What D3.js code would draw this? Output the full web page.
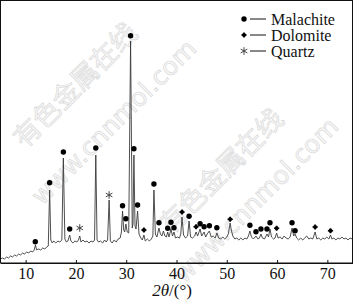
<!DOCTYPE html>
<html>
<head>
<meta charset="utf-8">
<title>XRD pattern</title>
<style>
	body { margin: 0; background: #fff; }
	svg { display: block; }
	.tick text { font-family: "Liberation Serif", "Times New Roman", serif; font-size: 16px; fill: #111; }
	.legend text { font-family: "Liberation Serif", "Times New Roman", serif; font-size: 16px; fill: #111; }
	.wm { fill: #f8f8f8; stroke: #dadada; stroke-width: 0.7; }
</style>
</head>
<body>
<script src="https://cdn.jsdelivr.net/npm/d3@7/dist/d3.min.js"></script>
<script>
// diffraction pattern: [2theta, counts]
var pattern = [
	[5.0,16],[5.4,20],[5.8,16],[6.2,24],[6.6,20],[7.0,28],[7.4,24],[7.8,32],[8.2,28],[8.6,36],
	[9.0,32],[9.4,40],[9.8,36],[10.2,44],[10.6,40],[11.0,48],[11.4,44],[11.7,52],[11.95,72],[12.2,52],
	[12.6,56],[13.0,52],[13.4,60],[13.8,56],[14.2,64],[14.5,68],[14.77,292],[15.0,92],[15.3,80],[15.6,88],
	[16.0,80],[16.4,88],[16.8,84],[17.2,92],[17.5,420],[17.8,96],[18.1,84],[18.4,88],[18.76,112],[19.0,88],
	[19.4,80],[19.8,88],[20.2,84],[20.5,92],[20.76,108],[21.0,84],[21.4,92],[21.8,84],[22.2,88],[22.6,80],
	[23.0,88],[23.4,84],[23.7,92],[23.95,432],[24.2,92],[24.5,84],[24.9,88],[25.3,80],[25.7,92],[26.0,84],
	[26.3,92],[26.6,252],[26.85,88],[27.2,80],[27.6,92],[28.0,84],[28.4,96],[28.8,100],[29.05,124],[29.27,208],
	[29.5,132],[29.7,124],[29.93,156],[30.2,124],[30.5,120],[30.87,888],[31.2,140],[31.35,156],[31.53,432],[31.75,148],
	[31.95,136],[32.26,208],[32.55,116],[32.9,100],[33.2,92],[33.52,112],[33.8,88],[34.2,96],[34.6,88],[35.0,96],
	[35.3,108],[35.51,292],[35.8,116],[36.1,104],[36.51,140],[36.8,116],[37.1,108],[37.4,128],[37.7,108],[38.0,104],
	[38.25,124],[38.5,104],[38.9,136],[39.2,108],[39.5,124],[39.8,100],[40.2,104],[40.6,100],[40.85,116],[41.1,184],
	[41.4,112],[41.8,100],[42.2,108],[42.5,168],[42.8,104],[43.2,100],[43.6,108],[43.89,124],[44.2,108],[44.69,136],
	[45.0,108],[45.49,124],[45.8,104],[46.1,116],[46.54,128],[46.9,104],[47.3,108],[47.7,100],[48.02,120],[48.4,100],
	[48.8,96],[49.2,104],[49.6,96],[50.0,104],[50.3,116],[50.67,160],[50.9,132],[51.2,108],[51.6,96],[52.0,100],
	[52.4,92],[52.8,100],[53.2,92],[53.6,100],[54.0,96],[54.3,108],[54.6,128],[54.9,104],[55.3,96],[55.8,108],
	[56.2,96],[56.5,100],[56.79,116],[57.1,100],[57.5,96],[57.99,116],[58.3,104],[58.59,136],[58.9,104],[59.3,96],
	[59.6,100],[59.91,120],[60.2,100],[60.6,104],[61.0,96],[61.4,108],[61.8,100],[62.2,96],[62.6,104],[62.98,140],
	[63.3,108],[63.58,116],[63.9,100],[64.3,92],[64.7,100],[65.1,92],[65.5,100],[65.9,108],[66.3,96],[66.7,100],
	[67.1,96],[67.57,124],[67.9,96],[68.3,100],[68.7,92],[69.1,100],[69.5,96],[69.9,104],[70.3,96],[70.62,112],
	[70.9,96],[71.3,100],[71.7,92],[72.1,100],[72.5,96],[72.9,104],[73.3,96],[73.7,100],[74.1,92],[74.5,100],
	[75.0,96]
];

// phase markers: [2theta, counts where the marker sits]
var malachite = [
	[11.92,85],[14.77,321],[17.50,444],[18.76,136],[23.95,460],[29.27,229],[29.93,177],[30.87,909],[31.53,457],
	[32.26,232],[35.51,316],[36.51,161],[38.25,139],[38.90,163],[39.50,141],[42.50,187],[44.69,157],[45.49,145],
	[46.54,149],[48.02,141],[54.60,151],[55.80,125],[56.79,136],[57.99,136],[58.59,161],[62.98,161],[63.58,129]
];
var dolomite = [[33.52,132],[41.10,204],[43.89,145],[50.67,175],[59.91,139],[67.57,144],[70.62,129]];
var quartz = [[20.76,140],[26.60,272]];

var xTicks = [10, 20, 30, 40, 50, 60, 70];
var legendItems = ['Malachite', 'Dolomite', 'Quartz'];

var width = 353, height = 301;
var plotBottom = 263;

var svg = d3.select('body').append('svg')
	.attr('width', width)
	.attr('height', height);

var x = d3.scaleLinear().domain([5, 75]).range([0.5, 352.5]);
var y = d3.scaleLinear().domain([0, 1052]).range([plotBottom, 0]);

// watermark
var wm = svg.append('g').attr('class', 'wm');
function stamp(txt, cx, cy, font, size) {
	wm.append('text')
		.attr('transform', 'translate(' + cx + ',' + cy + ') rotate(-45)')
		.attr('text-anchor', 'middle')
		.style('font-family', font)
		.style('font-size', size + 'px')
		.text(txt);
}
stamp('有色金属在线', 82, 92, '"Noto Sans CJK SC"', 27);
stamp('www.cnnmol.com', 120, 128, '"DejaVu Sans", sans-serif', 25);
stamp('有色金属在线', 228, 178, '"Noto Sans CJK SC"', 27);
stamp('www.cnnmol.com', 262, 206, '"DejaVu Sans", sans-serif', 25);

// the pattern
var line = d3.line()
	.x(function (d) { return x(d[0]); })
	.y(function (d) { return y(d[1]); });

svg.append('path')
	.datum(pattern)
	.attr('fill', 'none')
	.attr('stroke', '#3a3a3a')
	.attr('stroke-width', 0.9)
	.attr('stroke-linejoin', 'round')
	.attr('d', line);

// markers
var dot = 2.7;
var cross = d3.symbol().type(d3.symbolCross).size(15);
var star = d3.symbol().type(d3.symbolAsterisk).size(40);

function addDot(g, px, py) {
	g.append('circle').attr('cx', px).attr('cy', py).attr('r', dot).attr('fill', '#000');
}
function addDolo(g, px, py) {
	g.append('path').attr('transform', 'translate(' + px + ',' + py + ')').attr('d', cross).attr('fill', '#000');
	g.append('circle').attr('cx', px).attr('cy', py).attr('r', 2).attr('fill', '#000');
}
function addStar(g, px, py) {
	g.append('path').attr('transform', 'translate(' + px + ',' + py + ')').attr('d', star)
		.attr('fill', 'none').attr('stroke', '#444').attr('stroke-width', 1);
}

var marks = svg.append('g');
malachite.forEach(function (d) { addDot(marks, x(d[0]), y(d[1])); });
dolomite.forEach(function (d) { addDolo(marks, x(d[0]), y(d[1])); });
quartz.forEach(function (d) { addStar(marks, x(d[0]), y(d[1])); });

// frame
svg.append('rect')
	.attr('x', 0.5).attr('y', 0.5)
	.attr('width', 352).attr('height', plotBottom - 0.5)
	.attr('fill', 'none')
	.attr('stroke', '#111')
	.attr('stroke-width', 1);

// bottom axis, ticks pointing in
var axis = svg.append('g')
	.attr('transform', 'translate(0,' + plotBottom + ')')
	.call(d3.axisBottom(x).tickValues(xTicks).tickSizeInner(-3).tickSizeOuter(0).tickPadding(5));
axis.select('.domain').attr('stroke', '#111');
axis.selectAll('.tick line').attr('stroke', '#111');

svg.append('text')
	.attr('x', 172)
	.attr('y', 296)
	.attr('text-anchor', 'middle')
	.style('font-family', '"Liberation Serif", serif')
	.style('font-size', '17px')
	.attr('fill', '#111')
	.html('<tspan font-style="italic">2θ</tspan>/(°)');

// legend
var legend = svg.append('g').attr('class', 'legend');
legendItems.forEach(function (name, i) {
	var ly = 19 + i * 16;
	if (i === 0) addDot(legend, 244, ly);
	else if (i === 1) addDolo(legend, 244, ly);
	else addStar(legend, 244, ly);
	legend.append('line')
		.attr('x1', 250).attr('x2', 266)
		.attr('y1', ly).attr('y2', ly)
		.attr('stroke', '#111').attr('stroke-width', 1);
	legend.append('text')
		.attr('x', 271)
		.attr('y', ly + 5.5)
		.text(name);
});
</script>
</body>
</html>
